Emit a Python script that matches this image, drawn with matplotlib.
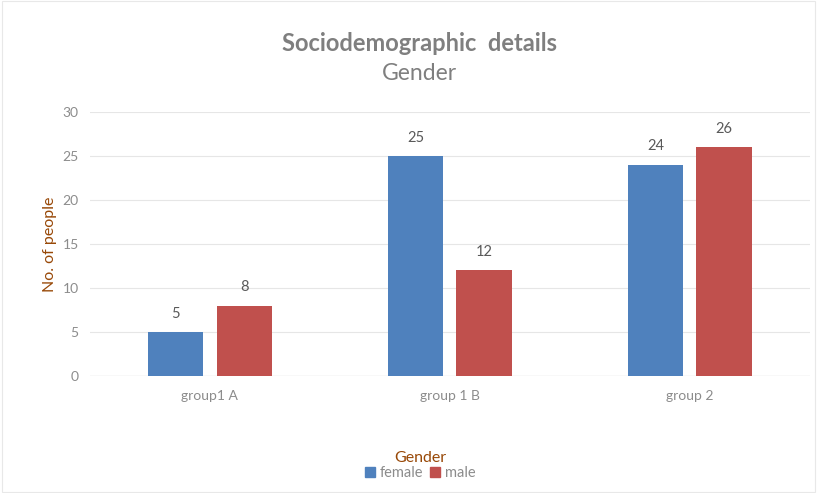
import numpy as np
import matplotlib
matplotlib.use("Agg")
import matplotlib.pyplot as plt
from matplotlib.patches import Patch

plt.rcParams["font.family"] = ["Lato", "DejaVu Sans"]

groups = ["group1 A", "group 1 B", "group 2"]
female = [5, 25, 24]
male = [8, 12, 26]

BLUE = "#4F81BD"
RED = "#C0504D"
BROWN = "#984807"
TICK = "#8C8C8C"

fig = plt.figure(figsize=(8.17, 4.93), dpi=100)
ax = fig.add_axes([0.110, 0.237, 0.881, 0.536])

x = np.arange(len(groups))
w = 0.23
off = 0.143
bf = ax.bar(x - off, female, w, color=BLUE, zorder=3)
bm = ax.bar(x + off, male, w, color=RED, zorder=3)
for bars, vals in ((bf, female), (bm, male)):
    for b, v in zip(bars, vals):
        ax.text(b.get_x() + b.get_width() / 2, v + 1.3, str(v), ha="center",
                va="bottom", fontsize=10.5, color="#595959")

ax.set_xlim(-0.5, 2.5)
ax.set_ylim(0, 30)
ax.set_yticks(range(0, 31, 5))
ax.set_xticks(x)
ax.set_xticklabels(groups)
ax.tick_params(length=0, labelsize=10, colors=TICK, pad=8)
ax.tick_params(axis="x", pad=10)
ax.grid(True, axis="y", color="#E6E6E6", lw=0.8, zorder=0)
for s in ax.spines.values():
    s.set_visible(False)
ax.axhline(0, color="#D9D9D9", lw=0.9, zorder=2)
ax.set_ylabel("No. of people", color=BROWN, fontsize=11.5, labelpad=4)

fig.text(0.513, 0.912, "Sociodemographic  details", ha="center", va="center",
         fontsize=17, fontweight="bold", color="#7F7F7F")
fig.text(0.513, 0.851, "Gender", ha="center", va="center",
         fontsize=16.5, color="#7F7F7F")

fig.text(0.514, 0.071, "Gender", ha="center", va="center", fontsize=11.5, color=BROWN)
leg = fig.legend(handles=[Patch(color=BLUE, label="female"), Patch(color=RED, label="male")],
                 loc="center", bbox_to_anchor=(0.514, 0.040), ncol=2, frameon=False,
                 fontsize=10.5, handlelength=0.7, handleheight=0.7, handletextpad=0.3,
                 columnspacing=0.5, borderpad=0)
for t in leg.get_texts():
    t.set_color(TICK)

fig.patches.append(plt.Rectangle((0.002, 0.003), 0.996, 0.994, transform=fig.transFigure,
                                 fill=False, edgecolor="#E8E8E8", lw=0.8))

fig.savefig("out.png", dpi=100)
